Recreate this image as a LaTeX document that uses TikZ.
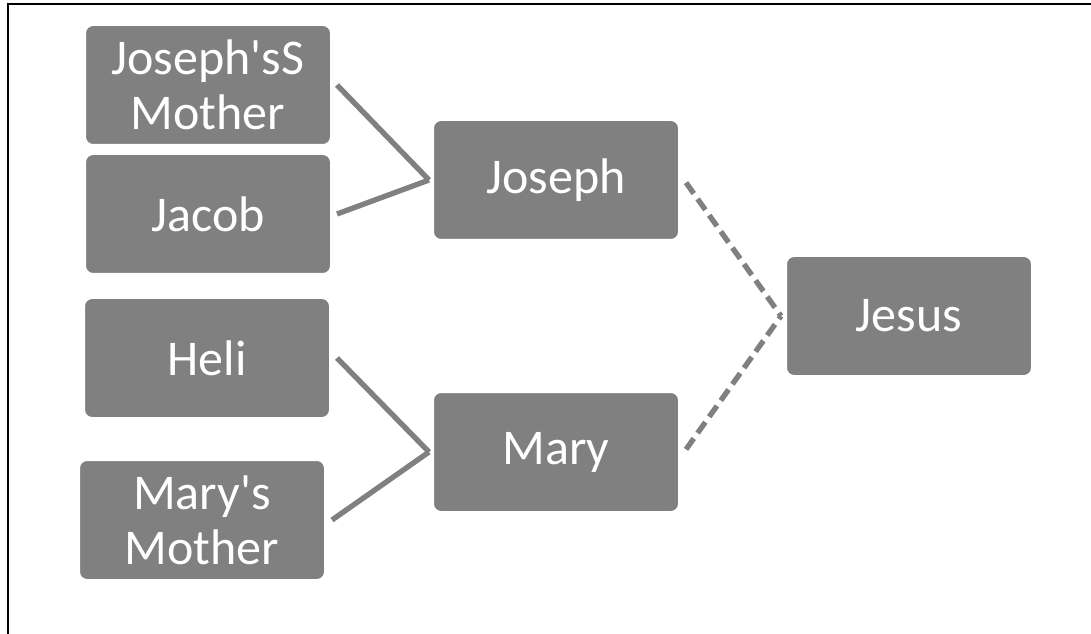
\documentclass[tikz,border=0pt]{standalone}
\usepackage{fontspec}
\newfontfamily\boxfont{Carlito}
\definecolor{boxgray}{RGB}{128,128,128}
\begin{document}
\begin{tikzpicture}[x=0.75pt,y=-0.75pt,
  person/.style={draw=white, line width=1.5pt, fill=boxgray, rounded corners=6pt,
    minimum width=184.5pt, minimum height=90pt, inner sep=0pt, text=white,
    align=center, font=\boxfont\fontsize{37.5}{41}\selectfont},
  link/.style={draw=boxgray, line width=4pt},
  dlink/.style={link, dash pattern=on 10pt off 5pt}]
\useasboundingbox (0,0) rectangle (1091,634);
\draw[line width=1.5pt] (8,634) -- (8,4) -- (1091,4);
\node[person] (jm) at (208,85) {Joseph'sS\\Mother};
\node[person] (jacob) at (208,214) {Jacob};
\node[person] (heli) at (207,358) {Heli};
\node[person] (mm) at (202,520) {Mary's\\Mother};
\node[person] (joseph) at (556,180) {Joseph};
\node[person] (mary) at (556,452) {Mary};
\node[person] (jesus) at (909,316) {Jesus};
\draw[link] ([xshift=3.75pt]jm.east) -- ([xshift=-2.25pt]joseph.west);
\draw[link] ([xshift=3.75pt]jacob.east) -- ([xshift=-2.25pt]joseph.west);
\draw[link] ([xshift=4.5pt]heli.east) -- ([xshift=-2.25pt]mary.west);
\draw[link] ([xshift=4.5pt]mm.east) -- ([xshift=-2.25pt]mary.west);
\draw[dlink] ([xshift=4.5pt,yshift=-2pt]joseph.east) -- ([xshift=-3pt]jesus.west);
\draw[dlink] ([xshift=4.5pt,yshift=2pt]mary.east) -- ([xshift=-3pt]jesus.west);
\end{tikzpicture}
\end{document}
